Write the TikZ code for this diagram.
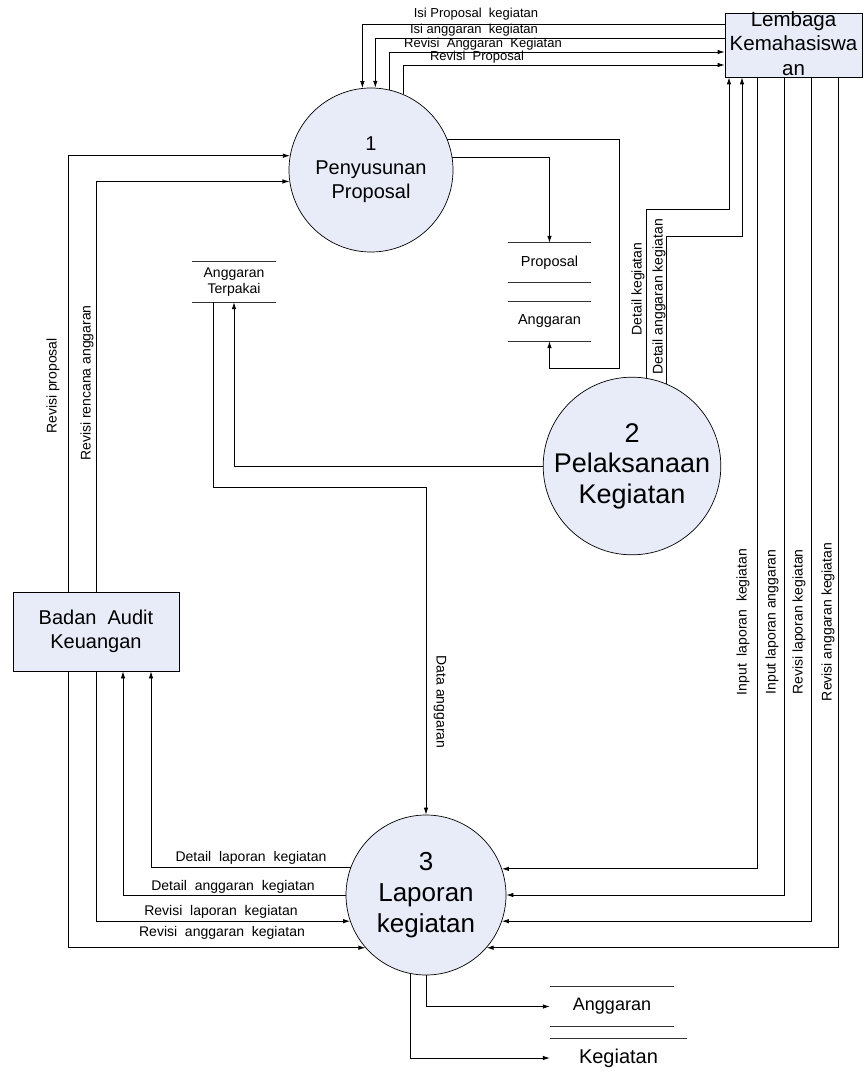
\documentclass[tikz,border=0pt]{standalone}
\usepackage{fontspec}
\setmainfont{Liberation Sans}
\usetikzlibrary{arrows.meta}
\definecolor{procfill}{RGB}{232,236,248}
\begin{document}
\begin{tikzpicture}[x=1pt,y=-1pt,
  flow/.style={draw=black, line width=0.8pt, -{Latex[length=7pt,width=4.5pt]}},
  storeline/.style={draw=black!80, line width=0.9pt},
  proc/.style={circle, draw=black, line width=0.7pt, fill=procfill, inner sep=0pt, align=center},
  ext/.style={rectangle, draw=black, line width=0.8pt, fill=procfill, inner sep=0pt, align=center},
  store/.style={inner sep=0pt, align=center, font=\fontsize{14.5}{16}\selectfont},
  lbl/.style={inner sep=0pt, font=\fontsize{14}{16}\selectfont},
  toplbl/.style={inner sep=0pt, font=\fontsize{13}{15}\selectfont},
]
\useasboundingbox (0,0) rectangle (863,1075);
\fill[white] (0,0) rectangle (863,1075);

% processes
\node[proc, minimum size=164pt, font=\fontsize{20}{24}\selectfont] (c1) at (371,170) {1\\Penyusunan\\Proposal};
\node[proc, minimum size=168pt, font=\fontsize{27}{30.5}\selectfont] (c2) at (632,466) {2\\Pelaksanaan\\Kegiatan};
\node[proc, minimum size=160pt, font=\fontsize{26}{31}\selectfont] (c3) at (426,895) {3\\Laporan\\kegiatan};

% external entities
\node[ext, minimum width=137pt, minimum height=64pt] (lem) at (793.5,45) {};
\node[inner sep=0pt, align=center, font=\fontsize{20.5}{24.5}\selectfont] (lemtxt) at (793.5,43.5) {Lembaga\\Kemahasiswa\\an};
\node[ext, minimum width=166pt, minimum height=79pt, font=\fontsize{20}{24}\selectfont] (bak) at (96,631.5) {Badan\ \ Audit\\Keuangan};

% data stores
\node[store, minimum width=83pt, minimum height=39pt] (sp) at (549.5,262.5) {Proposal};
\node[store, minimum width=83pt, minimum height=39pt] (sa) at (549.5,321.5) {Anggaran};
\node[store, minimum width=84pt, minimum height=40pt, font=\fontsize{14}{16}\selectfont] (st) at (234,282) {Anggaran\\Terpakai};
\node[store, minimum width=124pt, minimum height=39pt, font=\fontsize{18}{20}\selectfont] (sb1) at (612,1006.5) {Anggaran};
\node[store, minimum width=137pt, minimum height=38pt, font=\fontsize{20}{22}\selectfont] (sb2) at (618.5,1058) {Kegiatan};
\draw[storeline] (sp.north west) -- (sp.north east) (sp.south west) -- (sp.south east);
\draw[storeline] (sa.north west) -- (sa.north east) (sa.south west) -- (sa.south east);
\draw[storeline] (st.north west) -- (st.north east) (st.south west) -- (st.south east);
\draw[storeline] (sb1.north west) -- (sb1.north east) (sb1.south west) -- (sb1.south east);
\draw[storeline] (sb2.north west) -- (sb2.north east);

% helper coordinates
\coordinate (yIP) at (0,24);
\coordinate (yIA) at (0,38);
\coordinate (yRA) at (0,52);
\coordinate (yRP) at (0,65);
\coordinate (r1) at (619,368);
\coordinate (dk) at (729,209);
\coordinate (dak) at (742,236);
\coordinate (xa) at (68,0);
\coordinate (xc) at (151,0);
\coordinate (xd) at (123,0);
\coordinate (x1) at (757,0);
\coordinate (x2) at (784,0);
\coordinate (x3) at (811,0);
\coordinate (x4) at (838,0);
\coordinate (da) at (213,487);

% flows
\draw[flow] (lem.west |- yIP) -| (c1.96.3);
\draw[flow] (lem.west |- yIA) -| (c1.87.9);
\draw[flow] (c1.77.3) |- (lem.west |- yRA);
\draw[flow] (c1.67.8) |- (lem.west |- yRP);
\draw[flow] (c1.9.8) -| (sp.north);
\draw[flow] (c1.22.2) -| (r1) -| (sa.south);
\draw[flow] (c2.81.8) |- (dk) -- (dk |- lem.south);
\draw[flow] (c2.67.6) |- (dak) -- (dak |- lem.south);
\draw[flow] (c2.west) -| (st.south);
\draw[flow] (st.south -| da) |- (c3.north |- da) -- (c3.north);
\draw[flow] (bak.north -| xa) |- (c1.170.9);
\draw[flow] (bak.north) |- (c1.188.4);
\draw[flow] (c3.160.3) -| (bak.south -| xc);
\draw[flow] (c3.west) -| (bak.south -| xd);
\draw[flow] (bak.south) |- (c3.199.7);
\draw[flow] (bak.south -| xa) |- (c3.221.5);
\draw[flow] (lem.south -| x1) |- (c3.19.7);
\draw[flow] (lem.south -| x2) |- (c3.east);
\draw[flow] (lem.south -| x3) |- (c3.341.8);
\draw[flow] (lem.south -| x4) |- (c3.319.5);
\draw[flow] (c3.270) |- (sb1.west);
\draw[flow] (c3.259.2) |- (sb2.west);

% labels
\node[toplbl] (l1) at (476,14) {Isi Proposal\ \ kegiatan};
\node[toplbl] (l2) at (474,30) {Isi anggaran\ \ kegiatan};
\node[toplbl] (l3) at (483,44) {Revisi\ \ Anggaran\ \ Kegiatan};
\node[toplbl] (l4) at (477,57) {Revisi\ \ Proposal};
\node[lbl, rotate=90] (l5) at (638,289) {Detail kegiatan};
\node[lbl, rotate=90] (l6) at (659,297) {Detail anggaran kegiatan};
\node[lbl, rotate=90] (l7) at (53,386) {Revisi proposal};
\node[lbl, rotate=90] (l8) at (87,383) {Revisi rencana anggaran};
\node[lbl, rotate=-90] (l9) at (440,702) {Data anggaran};
\node[lbl, rotate=90] (l10) at (743,622) {Input\ \ laporan\ \ kegiatan};
\node[lbl, rotate=90] (l11) at (772,622) {Input laporan anggaran};
\node[lbl, rotate=90] (l12) at (799,622) {Revisi laporan kegiatan};
\node[lbl, rotate=90] (l13) at (828,622) {Revisi anggaran kegiatan};
\node[lbl] (l14) at (251,858) {Detail\ \ laporan\ \ kegiatan};
\node[lbl] (l15) at (233,887) {Detail\ \ anggaran\ \ kegiatan};
\node[lbl] (l16) at (221,912) {Revisi\ \ laporan\ \ kegiatan};
\node[lbl] (l17) at (222,933) {Revisi\ \ anggaran\ \ kegiatan};
\end{tikzpicture}
\end{document}
